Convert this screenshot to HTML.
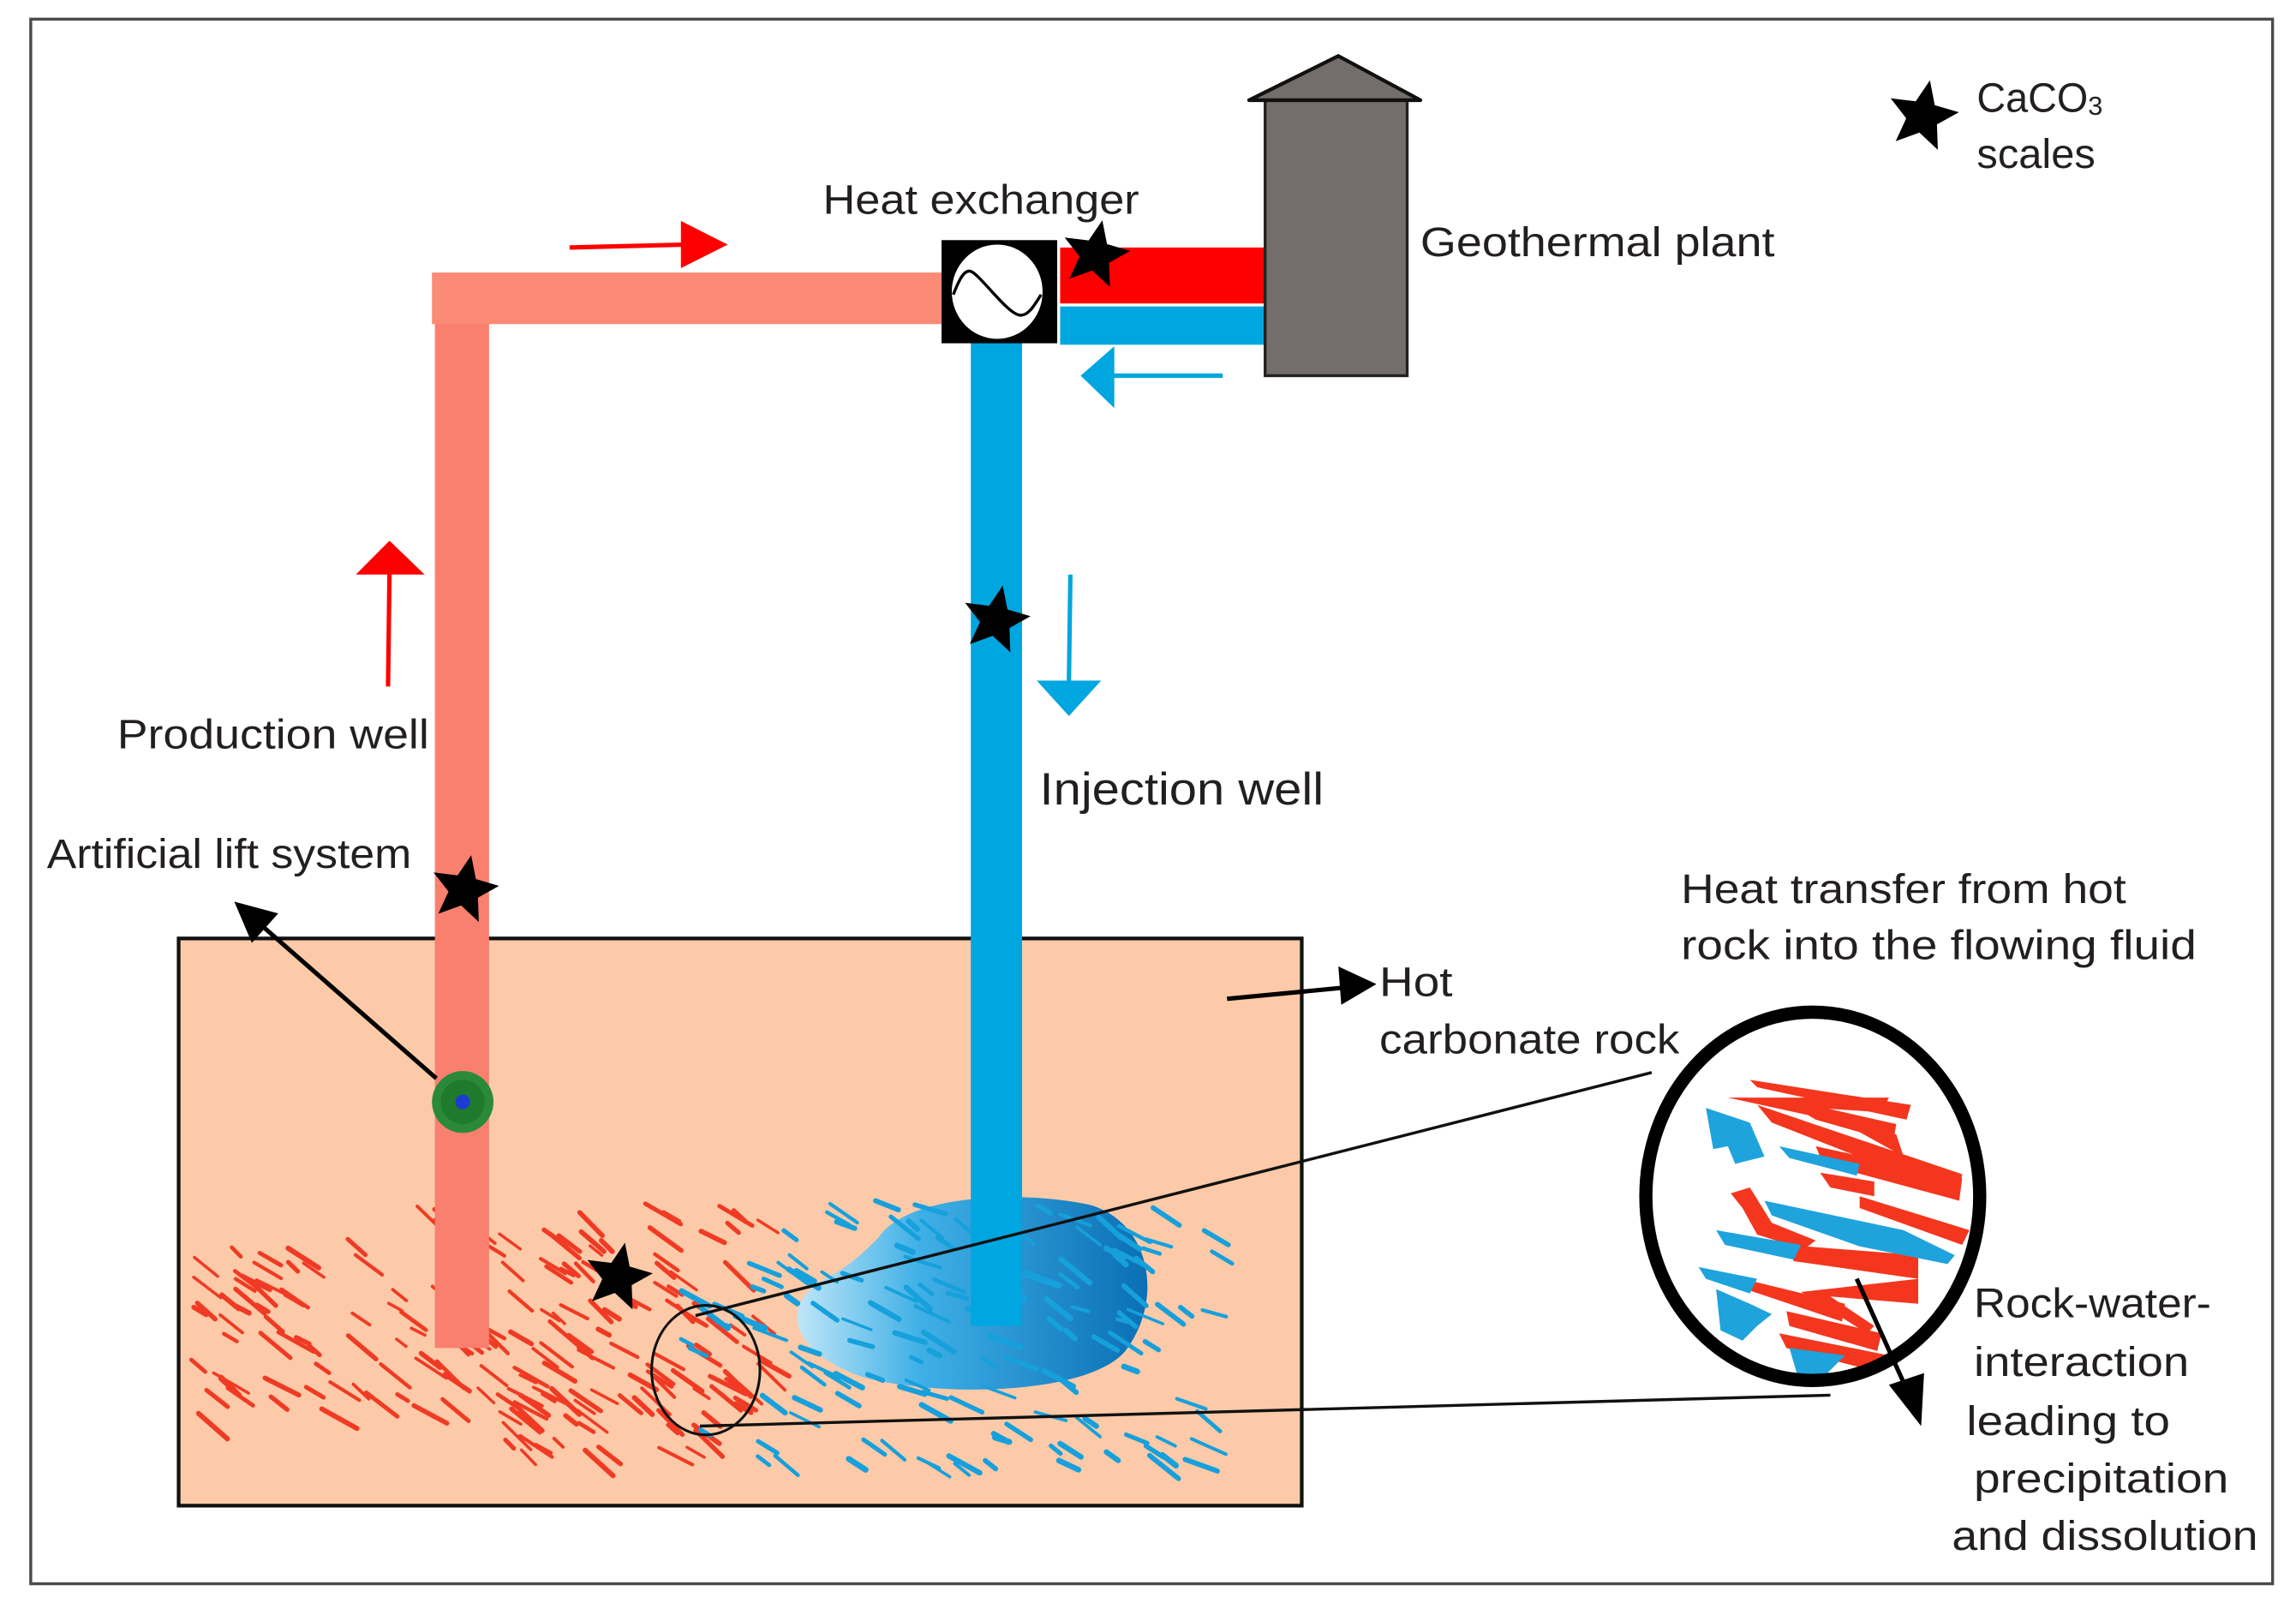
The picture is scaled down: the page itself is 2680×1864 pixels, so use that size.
<!DOCTYPE html>
<html><head><meta charset="utf-8"><style>
html,body{margin:0;padding:0;background:#fff;}
svg{display:block;}
text{font-family:"Liberation Sans",sans-serif;fill:#231f20;}
</style></head><body>
<svg id="s" width="2680" height="1864" viewBox="0 0 1568 1084" preserveAspectRatio="none" xmlns="http://www.w3.org/2000/svg">
<defs>
<linearGradient id="bg" x1="0" y1="0" x2="1" y2="0">
<stop offset="0" stop-color="#bfe6f8"/><stop offset="0.35" stop-color="#3fb0e6"/><stop offset="1" stop-color="#0a6fb5"/>
</linearGradient>
<clipPath id="cc"><ellipse cx="1238" cy="812" rx="110" ry="121"/></clipPath>
</defs>
<rect x="0" y="0" width="1568" height="1084" fill="#fff"/>
<rect x="21" y="13" width="1531" height="1062" fill="none" stroke="#4a4a4a" stroke-width="2"/>
<rect x="122" y="637" width="767" height="385" fill="#fccaa8" stroke="#111" stroke-width="2.5"/>
<g id="frac"></g>
<path d="M600,840 C620,810 700,808 745,818 C785,830 795,880 770,915 C750,945 650,950 590,935 C545,920 530,890 560,870 C580,860 590,850 600,840 Z" fill="url(#bg)"/>
<g id="frac2"></g>
<rect x="297" y="215" width="37" height="700" fill="#f97f6e"/>
<rect x="295" y="185" width="350" height="35" fill="#fb8a77"/>
<rect x="663" y="230" width="35" height="670" fill="#00a6e0"/>
<rect x="724" y="168" width="141" height="38" fill="#ff0000"/>
<rect x="724" y="208" width="141" height="26" fill="#00a6e0"/>
<rect x="643" y="163" width="79" height="70" fill="#000"/>
<ellipse cx="681" cy="198" rx="31" ry="32" fill="#fff"/>
<path d="M651,200 C655,190 658,184 662,184 C668,184 688,214 697,214 C703,214 707,206 711,200" fill="none" stroke="#000" stroke-width="2"/>
<rect x="864" y="68" width="97" height="187" fill="#736e6c" stroke="#222" stroke-width="2"/>
<polygon points="853,68 914,38 970,68" fill="#736e6c" stroke="#111" stroke-width="2.5" stroke-linejoin="round"/>
<line x1="389" y1="168" x2="470" y2="166" stroke="#ff0000" stroke-width="3"/>
<polygon points="465,150 497,166 465,182" fill="#ff0000"/>
<line x1="265" y1="466" x2="266" y2="388" stroke="#ff0000" stroke-width="3"/>
<polygon points="243,390 266,367 290,390" fill="#ff0000"/>
<line x1="835" y1="255" x2="760" y2="255" stroke="#00a6e0" stroke-width="3"/>
<polygon points="761,235 738,255 761,277" fill="#00a6e0"/>
<line x1="731" y1="390" x2="730" y2="462" stroke="#00a6e0" stroke-width="3"/>
<polygon points="708,462 730,486 752,462" fill="#00a6e0"/>
<ellipse cx="482" cy="930" rx="37" ry="44" fill="none" stroke="#111" stroke-width="1.8"/>
<line x1="475" y1="893" x2="1128" y2="728" stroke="#111" stroke-width="2"/>
<line x1="478" y1="968" x2="1250" y2="947" stroke="#111" stroke-width="2"/>
<g clip-path="url(#cc)">
<rect x="1120" y="690" width="240" height="250" fill="#fff"/>
<polygon points="1195,733 1305,750 1302,760 1200,738" fill="#f4361e"/>
<polygon points="1180,745 1290,745 1285,755 1240,752 1300,785 1295,770" fill="#f4361e"/>
<polygon points="1215,745 1295,763 1293,775 1240,760" fill="#f4361e"/>
<polygon points="1200,750 1340,797 1338,812 1210,762" fill="#f4361e"/>
<polygon points="1240,778 1340,800 1338,815 1245,790" fill="#f4361e"/>
<polygon points="1243,796 1280,802 1280,812 1250,806" fill="#f4361e"/>
<polygon points="1270,812 1345,835 1340,845 1270,820" fill="#f4361e"/>
<polygon points="1182,810 1195,806 1210,830 1240,842 1232,848 1200,838 1190,820" fill="#f4361e"/>
<polygon points="1220,845 1310,852 1310,868 1225,856" fill="#f4361e"/>
<polygon points="1190,868 1260,885 1258,897 1195,876" fill="#f4361e"/>
<polygon points="1230,877 1310,868 1310,885 1250,880 1280,900 1275,905" fill="#f4361e"/>
<polygon points="1220,890 1285,905 1282,917 1222,900" fill="#f4361e"/>
<polygon points="1215,905 1290,920 1285,932 1220,915" fill="#f4361e"/>
<polygon points="1165,752 1195,762 1205,785 1185,790 1180,778 1170,780" fill="#1fa3dc"/>
<polygon points="1215,778 1270,790 1268,798 1222,786" fill="#1fa3dc"/>
<polygon points="1205,815 1300,835 1335,852 1330,858 1270,846 1210,825" fill="#1fa3dc"/>
<polygon points="1172,835 1230,845 1225,855 1178,845" fill="#1fa3dc"/>
<polygon points="1160,860 1200,868 1195,878 1165,868" fill="#1fa3dc"/>
<polygon points="1172,875 1195,885 1210,892 1200,900 1190,910 1175,903" fill="#1fa3dc"/>
<polygon points="1222,915 1260,920 1245,935 1228,935" fill="#1fa3dc"/>
</g>
<ellipse cx="1238" cy="812" rx="114" ry="125" fill="none" stroke="#000" stroke-width="9"/>
<line x1="1268" y1="868" x2="1303" y2="945" stroke="#000" stroke-width="3"/>
<polygon points="1290,940 1312,968 1314,932" fill="#000"/>
<line x1="298" y1="732" x2="175" y2="625" stroke="#000" stroke-width="3"/>
<polygon points="160,612 190,620 172,640" fill="#000"/>
<line x1="838" y1="678" x2="922" y2="670" stroke="#000" stroke-width="3"/>
<polygon points="940,668 914,656 916,682" fill="#000"/>
<circle cx="316" cy="748" r="21" fill="#2b8a3a"/>
<circle cx="316" cy="748" r="15" fill="#1f7a2e"/>
<circle cx="316" cy="748" r="5" fill="#1e3bd0"/>
<g fill="#000" id="stars"></g>
<text x="562" y="145" font-size="28" textLength="216" lengthAdjust="spacingAndGlyphs">Heat exchanger</text>
<text x="970" y="174" font-size="28" textLength="242" lengthAdjust="spacingAndGlyphs">Geothermal plant</text>
<text x="1350" y="76" font-size="28" textLength="76" lengthAdjust="spacingAndGlyphs">CaCO</text>
<text x="1426" y="78" font-size="18">3</text>
<text x="1350" y="114" font-size="28" textLength="81" lengthAdjust="spacingAndGlyphs">scales</text>
<text x="80" y="508" font-size="28" textLength="213" lengthAdjust="spacingAndGlyphs">Production well</text>
<text x="710" y="546" font-size="31" textLength="194" lengthAdjust="spacingAndGlyphs">Injection well</text>
<text x="32" y="589" font-size="28" textLength="249" lengthAdjust="spacingAndGlyphs">Artificial lift system</text>
<text x="1148" y="613" font-size="28" textLength="304" lengthAdjust="spacingAndGlyphs">Heat transfer from hot</text>
<text x="1148" y="651" font-size="28" textLength="352" lengthAdjust="spacingAndGlyphs">rock into the flowing fluid</text>
<text x="942" y="676" font-size="28" textLength="50" lengthAdjust="spacingAndGlyphs">Hot</text>
<text x="942" y="715" font-size="28" textLength="205" lengthAdjust="spacingAndGlyphs">carbonate rock</text>
<text x="1348" y="894" font-size="28" textLength="162" lengthAdjust="spacingAndGlyphs">Rock-water-</text>
<text x="1348" y="934" font-size="28" textLength="147" lengthAdjust="spacingAndGlyphs">interaction</text>
<text x="1343" y="974" font-size="28" textLength="139" lengthAdjust="spacingAndGlyphs">leading to</text>
<text x="1348" y="1013" font-size="28" textLength="174" lengthAdjust="spacingAndGlyphs">precipitation</text>
<text x="1333" y="1052" font-size="28" textLength="209" lengthAdjust="spacingAndGlyphs">and dissolution</text>
</svg>
<script>
(function(){
var NS="http://www.w3.org/2000/svg";
var seed=7;function r(){seed=(seed*16807)%2147483647;return (seed-1)/2147483646;}
function add(g,tag,attrs){var e=document.createElementNS(NS,tag);for(var k in attrs)e.setAttribute(k,attrs[k]);g.appendChild(e);}
var f=document.getElementById('frac'),f2=document.getElementById('frac2');
var i,x,y,l,a;
for(i=0;i<220;i++){
  x=130+r()*390; y=815+r()*175;
  if(x<250&&y<840)continue;
  if(x<300&&y>960)continue;
  if(x>420&&y>985)continue;
  l=8+r()*20; a=0.45+r()*0.35;
  add(f,'line',{x1:x,y1:y,x2:x+l*Math.cos(a),y2:y+l*Math.sin(a),stroke:'#f03a24','stroke-width':2+r()*1.5,'stroke-linecap':'round'});
}
for(i=0;i<140;i++){
  x=465+r()*365; y=815+r()*180;
  if(x<520&&y<850)continue;
  l=8+r()*18; a=0.25+r()*0.5;
  add(f2,'line',{x1:x,y1:y,x2:x+l*Math.cos(a),y2:y+l*Math.sin(a),stroke:'#16a0dc','stroke-width':2+r()*2,'stroke-linecap':'round'});
}
var st=document.getElementById('stars');
[[748,173,24],[680,421,24],[317,604,24],[422,867,24],[1313,79,25]].forEach(function(s){
  var p=[];for(var k=0;k<10;k++){var ang=-Math.PI/2+k*Math.PI/5+0.2;var rr=k%2?s[2]*0.45:s[2];p.push((s[0]+rr*Math.cos(ang)).toFixed(1)+','+(s[1]+rr*Math.sin(ang)).toFixed(1));}
  add(st,'polygon',{points:p.join(' ')});
});
})();
</script>
</body></html>
